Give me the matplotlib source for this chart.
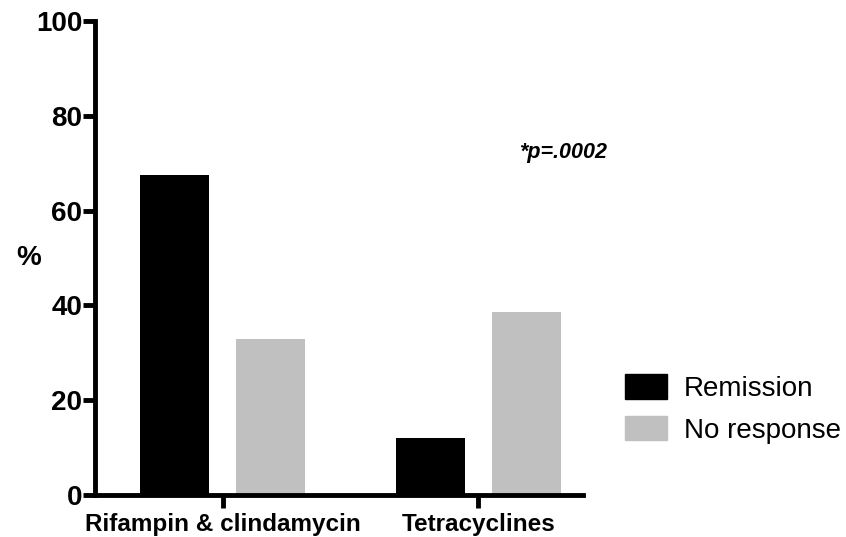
import numpy as np
import matplotlib.pyplot as plt
from matplotlib.patches import Patch

plt.rcParams['font.family'] = ['Liberation Sans', 'DejaVu Sans']

groups = ['Rifampin & clindamycin', 'Tetracyclines']
remission = [67.5, 12.0]
no_response = [33.0, 38.6]
series_names = ['Remission', 'No response']
colors = ['#000000', '#c0c0c0']

fig = plt.figure(figsize=(8.46, 5.37), dpi=100)
ax = fig.add_axes([0.112, 0.078, 0.577, 0.883])

x = np.arange(len(groups))
w = 0.27
off = 0.188
ax.bar(x - off, remission, w, color=colors[0])
ax.bar(x + off, no_response, w, color=colors[1])

ax.set_xlim(-0.502, 1.41)
ax.set_ylim(0, 100)
ax.set_yticks([0, 20, 40, 60, 80, 100])
ax.set_xticks(x)
ax.set_xticklabels(groups, fontsize=17.5, fontweight='bold')
for lab in ax.get_yticklabels():
    lab.set_fontsize(20)
    lab.set_fontweight('bold')

for s in ['top', 'right']:
    ax.spines[s].set_visible(False)
for s in ['left', 'bottom']:
    ax.spines[s].set_linewidth(3.5)
ax.tick_params(axis='y', length=9, width=3.5, pad=0)
ax.tick_params(axis='x', length=9, width=3.5, pad=4)

ax.set_ylabel('%', fontsize=20, fontweight='bold', rotation=0, va='center')
ax.yaxis.set_label_coords(-0.135, 0.5)

fig.text(0.613, 0.705, '*p=.0002', fontsize=15.5, fontweight='bold', style='italic')

handles = [Patch(color=c, label=n) for c, n in zip(colors, series_names)]
fig.legend(handles=handles, loc='upper left', bbox_to_anchor=(0.739, 0.304),
           frameon=False, fontsize=20, handlelength=1.5, handleheight=1.0,
           handletextpad=0.6, labelspacing=0.5, borderaxespad=0, borderpad=0)

fig.savefig('out.png', dpi=100)
